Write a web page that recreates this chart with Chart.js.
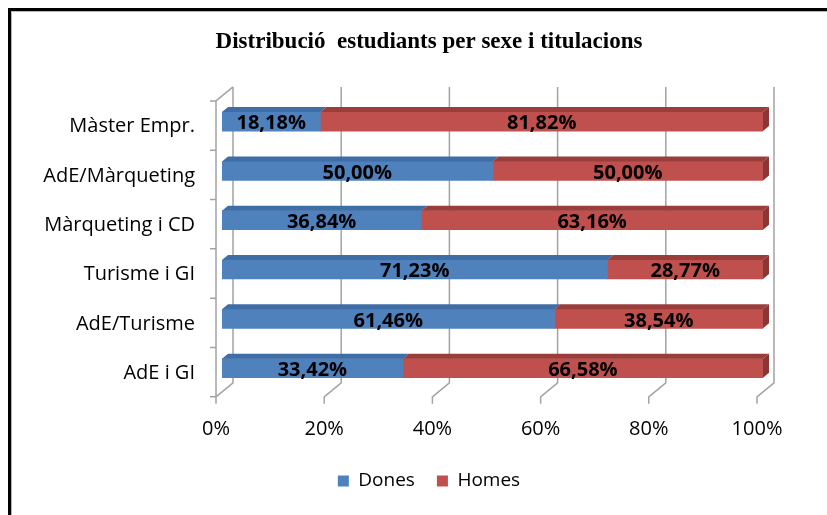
<!DOCTYPE html>
<html><head><meta charset="utf-8">
<script src="https://cdn.jsdelivr.net/npm/chart.js@4.4.1/dist/chart.umd.min.js"></script>
<style>
html,body{margin:0;padding:0;background:#fff;}
#wrap{position:relative;width:827px;height:515px;overflow:hidden;background:#fff;}
#frame{position:absolute;left:8px;top:8px;width:900px;height:600px;border-left:3px solid #000;border-top:3px solid #000;box-shadow:inset 1px 1px 0 #b5b5b5;pointer-events:none;}
canvas{position:absolute;left:0;top:0;}
</style></head><body>
<div id="wrap"><canvas id="c" width="827" height="515" style="width:827px;height:515px"></canvas><div id="frame"></div></div>
<script>
const categories = ['Màster Empr.', 'AdE/Màrqueting', 'Màrqueting i CD', 'Turisme i GI', 'AdE/Turisme', 'AdE i GI'];
const dones = [18.18, 50.00, 36.84, 71.23, 61.46, 33.42];
const homes = [81.82, 50.00, 63.16, 28.77, 38.54, 66.58];
const xTicks = [0, 20, 40, 60, 80, 100];
const seriesNames = ['Dones', 'Homes'];
const titleText = 'Distribució  estudiants per sexe i titulacions';

const faceTop = ['#3e6ea5', '#9a3e3c'];
const capColor = '#8b3634';

const threeD = {
  id: 'threeD',
  beforeDatasetsDraw(chart) {
    const {ctx, chartArea: a, scales: {x}} = chart;
    const ft = a.top + 4, fb = a.bottom + 4, dx = 17, dy = 14;
    ctx.save();
    ctx.strokeStyle = '#a3a3a3';
    ctx.lineWidth = 1.5;
    ctx.beginPath();
    xTicks.forEach(v => {
      const fx = x.getPixelForValue(v) - 6;
      ctx.moveTo(fx + dx, ft - dy);
      ctx.lineTo(fx + dx, fb - dy);
      ctx.lineTo(fx, fb);
      ctx.lineTo(fx, fb + 7);
    });
    const lx = x.getPixelForValue(0) - 6;
    ctx.moveTo(lx + dx, ft - dy);
    ctx.lineTo(lx, ft);
    ctx.lineTo(lx, fb);
    const n = categories.length;
    for (let i = 0; i <= n; i++) {
      const yy = ft + (fb - ft) * i / n;
      ctx.moveTo(lx - 6, yy);
      ctx.lineTo(lx, yy);
    }
    ctx.stroke();
    ctx.restore();
  },
  afterDatasetsDraw(chart) {
    const {ctx} = chart;
    const ox = 6, oy = 5;
    const nd = chart.data.datasets.length;
    ctx.save();
    for (let d = 0; d < nd; d++) {
      const meta = chart.getDatasetMeta(d);
      meta.data.forEach(bar => {
        const p = bar.getProps(['x', 'base', 'y', 'height'], true);
        const l = Math.min(p.x, p.base), r = Math.max(p.x, p.base);
        const t = p.y - p.height / 2, b = p.y + p.height / 2;
        ctx.fillStyle = faceTop[d];
        ctx.beginPath();
        ctx.moveTo(l, t); ctx.lineTo(r, t); ctx.lineTo(r + ox, t - oy); ctx.lineTo(l + ox, t - oy);
        ctx.closePath(); ctx.fill();
        if (d === nd - 1) {
          ctx.fillStyle = capColor;
          ctx.beginPath();
          ctx.moveTo(r, t); ctx.lineTo(r + ox, t - oy); ctx.lineTo(r + ox, b - oy); ctx.lineTo(r, b);
          ctx.closePath(); ctx.fill();
        }
      });
    }
    ctx.fillStyle = '#000';
    ctx.font = 'bold 20px "Open Sans"';
    ctx.textAlign = 'center';
    ctx.textBaseline = 'middle';
    for (let d = 0; d < nd; d++) {
      const meta = chart.getDatasetMeta(d);
      const vals = chart.data.datasets[d].data;
      meta.data.forEach((bar, i) => {
        const p = bar.getProps(['x', 'base', 'y'], true);
        const txt = vals[i].toFixed(2).replace('.', ',') + '%';
        ctx.fillText(txt, (p.x + p.base) / 2, p.y + 2);
      });
    }
    ctx.restore();
  }
};

new Chart(document.getElementById('c'), {
  type: 'bar',
  data: {
    labels: categories,
    datasets: [
      {label: seriesNames[0], data: dones, backgroundColor: '#4f81bd', borderWidth: 0, barThickness: 19},
      {label: seriesNames[1], data: homes, backgroundColor: '#c0504d', borderWidth: 0, barThickness: 19}
    ]
  },
  options: {
    indexAxis: 'y',
    responsive: false,
    animation: false,
    layout: {padding: {left: 31, right: 0, top: 0, bottom: 14.5}},
    scales: {
      x: {
        stacked: true, min: 0, max: 100,
        grid: {display: false, drawTicks: false},
        border: {display: false},
        ticks: {stepSize: 20, callback: v => v + '%', labelOffset: -6, padding: 24, maxRotation: 0, autoSkip: false,
          color: '#000', font: {family: 'Open Sans', size: 20}},
        afterFit(s) { s.height = 56.7; }
      },
      y: {
        stacked: true,
        grid: {display: false, drawTicks: false},
        border: {display: false},
        ticks: {padding: 27, labelOffset: 5, color: '#000', font: {family: 'Open Sans', size: 20}},
        afterFit(s) { s.width = 191; }
      },
      yPad: {
        type: 'linear', position: 'right', display: true,
        grid: {display: false, drawTicks: false},
        border: {display: false},
        ticks: {display: false},
        afterFit(s) { s.width = 64; }
      }
    },
    plugins: {
      title: {display: true, text: titleText, color: '#000',
        font: {family: 'Liberation Serif', size: 23, weight: 'bold'}, padding: {top: 28, bottom: 41.3}},
      legend: {position: 'bottom', labels: {boxWidth: 11, boxHeight: 11, padding: 22, color: '#000',
        font: {family: 'Open Sans', size: 19}}},
      tooltip: {enabled: false}
    }
  },
  plugins: [threeD]
});
</script>
</body></html>
